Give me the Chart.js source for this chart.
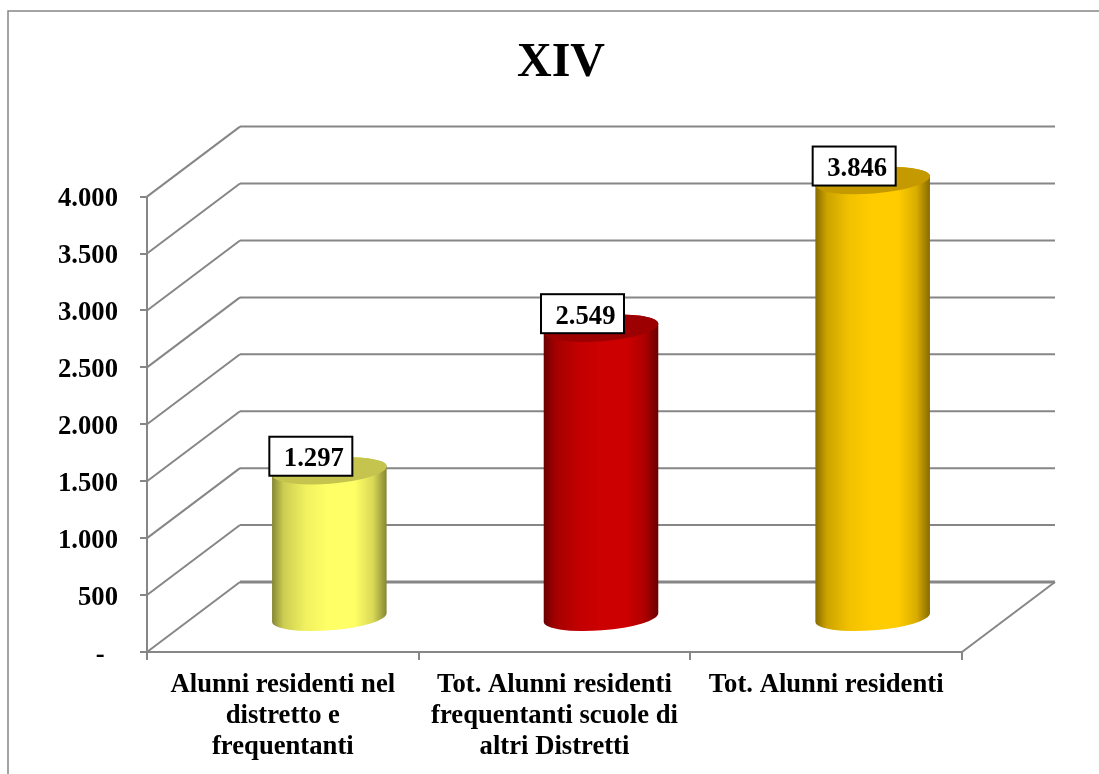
<!DOCTYPE html>
<html>
<head>
<meta charset="utf-8">
<title>XIV</title>
<script src="https://cdn.jsdelivr.net/npm/chart.js@4"></script>
<style>
  html, body { margin: 0; padding: 0; background: #fff; }
  canvas { display: block; }
</style>
</head>
<body>
<canvas id="chart" width="1099" height="774"></canvas>
<script>
const chartTitle = 'XIV';
const categories = [
  ['Alunni residenti nel', 'distretto e', 'frequentanti'],
  ['Tot. Alunni residenti', 'frequentanti scuole di', 'altri Distretti'],
  ['Tot. Alunni residenti'],
];
const values = [1297, 2549, 3846];
const valueLabels = ['1.297', '2.549', '3.846'];
const tickLabels = ['-  ', '500', '1.000', '1.500', '2.000', '2.500', '3.000', '3.500', '4.000'];

// cylinder colours as rgb, shaded across the width by shadeStops
const barColors = [[255, 255, 102], [204, 0, 0], [255, 204, 0]];
const capColors = ['#c4c44e', '#9c0000', '#c49a00'];
const shadeStops = [[0, 0.52], [0.1, 0.8], [0.3, 0.95], [0.5, 1], [0.72, 1], [0.88, 0.85], [1, 0.52]];

const LINE = '#868686';
const FONT = '"Liberation Serif", "Times New Roman", serif';
const DEPTH_X = 93, DEPTH_Y = 70;    // back wall offset of the fake 3D box
const TILT = -4.5 * Math.PI / 180;
const CAP_RY = 13;

function line(ctx, pts, width) {
  ctx.beginPath();
  pts.forEach((p, i) => (i ? ctx.lineTo(p[0], p[1]) : ctx.moveTo(p[0], p[1])));
  ctx.lineWidth = width;
  ctx.strokeStyle = LINE;
  ctx.stroke();
}

const box3d = {
  id: 'box3d',
  afterLayout(chart) {
    // title is centred over the whole plot including the depth, not the front area
    chart.titleBlock.left = 23;
    chart.titleBlock.right = 1099;
  },
  beforeDraw(chart) {
    // outer frame, open on the right and at the bottom of the page
    line(chart.ctx, [[8, 774], [8, 11], [1099, 11]], 1.5);
  },
  beforeDatasetsDraw(chart) {
    const ctx = chart.ctx;
    const y = chart.scales.y;
    const { left, right } = chart.chartArea;
    y.ticks.forEach(t => {
      const py = y.getPixelForValue(t.value);
      line(ctx, [[left, py], [left + DEPTH_X, py - DEPTH_Y]], 2);
      line(ctx, [[left + DEPTH_X, py - DEPTH_Y], [right + DEPTH_X, py - DEPTH_Y]], t.value === 0 ? 3 : 2);
    });
    const base = y.getPixelForValue(0);
    line(ctx, [[right, base], [right + DEPTH_X, base - DEPTH_Y]], 2);
  },
  beforeDatasetDraw(chart, args) {
    const ctx = chart.ctx;
    args.meta.data.forEach((bar, i) => {
      const cx = bar.x + DEPTH_X / 2;
      const rx = bar.width / 2;
      const top = bar.y - DEPTH_Y * 0.48;
      const bottom = bar.base - DEPTH_Y * 0.48;
      const grad = ctx.createLinearGradient(cx - rx, 0, cx + rx, 0);
      shadeStops.forEach(([pos, k]) => {
        const c = barColors[i].map(v => Math.round(v * k));
        grad.addColorStop(pos, `rgb(${c.join(',')})`);
      });
      ctx.beginPath();
      ctx.ellipse(cx, bottom, rx, CAP_RY, TILT, 0, Math.PI);
      ctx.ellipse(cx, top, rx, CAP_RY, TILT, Math.PI, 2 * Math.PI);
      ctx.closePath();
      ctx.fillStyle = grad;
      ctx.fill();
      ctx.beginPath();
      ctx.ellipse(cx, top, rx, CAP_RY, TILT, 0, 2 * Math.PI);
      ctx.fillStyle = capColors[i];
      ctx.fill();
    });
    return false; // cylinders replace the flat rectangles
  },
  afterDatasetsDraw(chart) {
    const ctx = chart.ctx;
    const meta = chart.getDatasetMeta(0);
    ctx.save();
    ctx.font = 'bold 26.67px ' + FONT;
    ctx.textBaseline = 'middle';
    ctx.textAlign = 'center';
    meta.data.forEach((bar, i) => {
      const cx = bar.x + DEPTH_X / 2;
      const top = bar.y - DEPTH_Y * 0.48;
      const bx = cx - 60, by = top - 34, bw = 83, bh = 39;
      ctx.fillStyle = '#fff';
      ctx.fillRect(bx, by, bw, bh);
      ctx.strokeStyle = '#000';
      ctx.lineWidth = 2;
      ctx.strokeRect(bx, by, bw, bh);
      ctx.fillStyle = '#000';
      ctx.fillText(valueLabels[i], bx + bw / 2 + 3, by + bh / 2 + 3);
    });
    ctx.restore();
  },
};

new Chart(document.getElementById('chart'), {
  type: 'bar',
  data: {
    labels: categories,
    datasets: [{
      data: values,
      backgroundColor: barColors.map(c => `rgb(${c.join(',')})`),
      barPercentage: 0.423,
      categoryPercentage: 1,
    }],
  },
  plugins: [box3d],
  options: {
    responsive: false,
    animation: false,
    layout: { padding: { left: 23, right: 137, top: 35, bottom: 0 } },
    plugins: {
      legend: { display: false },
      tooltip: { enabled: false },
      title: {
        display: true,
        text: chartTitle,
        color: '#000',
        font: { family: FONT, size: 48, weight: 'bold', lineHeight: 1.2 },
        padding: { top: 0, bottom: 104 },
      },
    },
    scales: {
      x: {
        grid: { drawOnChartArea: false, color: LINE, tickLength: 8, lineWidth: 2 },
        border: { color: LINE, width: 2 },
        ticks: {
          color: '#000',
          maxRotation: 0,
          autoSkip: false,
          padding: 10,
          font: { family: FONT, size: 26.67, weight: 'bold', lineHeight: 1.15 },
        },
        afterFit(scale) { scale.height = 122; },
      },
      y: {
        min: 0,
        max: 4000,
        grid: { drawOnChartArea: false, color: LINE, tickLength: 7, lineWidth: 2 },
        border: { color: LINE, width: 2 },
        ticks: {
          stepSize: 500,
          color: '#000',
          padding: 22,
          labelOffset: ctx => (ctx.tick && ctx.tick.value === 0 ? 5 : 3),
          font: { family: FONT, size: 26.67, weight: 'bold' },
          callback: (v, i) => tickLabels[i],
        },
        afterFit(scale) { scale.width = 124; },
      },
    },
  },
});
</script>
</body>
</html>
